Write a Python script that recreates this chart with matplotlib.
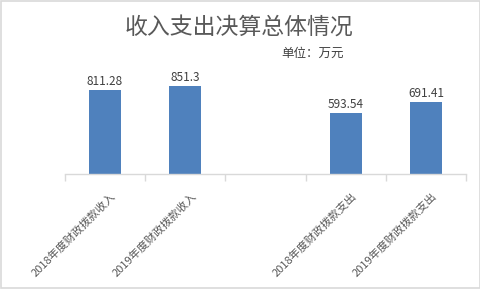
import matplotlib
matplotlib.use("Agg")
import matplotlib.pyplot as plt
import matplotlib.transforms as mtransforms
from matplotlib.patches import Rectangle

plt.rcParams['font.family'] = ['Noto Sans CJK SC', 'DejaVu Sans']

# data
categories = ['2018年度财政拨款收入', '2019年度财政拨款收入', '',
              '2018年度财政拨款支出', '2019年度财政拨款支出']
values = [811.28, 851.3, None, 593.54, 691.41]
value_labels = ['811.28', '851.3', '', '593.54', '691.41']

bar_color = '#4f81bd'
text_color = '#595959'
grid_color = '#d9d9d9'

fig = plt.figure(figsize=(4.81, 2.89), dpi=100)
ax = fig.add_axes([0.135, 0.398, 0.834, 0.322])

xs = [i for i, v in enumerate(values) if v is not None]
ys = [v for v in values if v is not None]
bars = ax.bar(xs, ys, width=0.4, color=bar_color)
for x, y, lab in zip(xs, ys, [l for l in value_labels if l]):
    ax.text(x, y + 20, lab, ha='center', va='bottom', fontsize=8.5,
            color='#404040')

ax.set_xlim(-0.5, len(categories) - 0.5)
ax.set_ylim(0, 900)
ax.set_yticks([])
for s in ['left', 'right', 'top']:
    ax.spines[s].set_visible(False)
ax.spines['bottom'].set_color(grid_color)
ax.spines['bottom'].set_linewidth(1.0)

ax.set_xticks(range(len(categories)))
ax.set_xticklabels(categories, rotation=45, ha='right', va='center',
                   rotation_mode='anchor', fontsize=8, color=text_color)
ax.tick_params(axis='x', which='major', length=0, pad=12)
offset = mtransforms.ScaledTranslation(9 / 100, -4 / 100, fig.dpi_scale_trans)
for lbl in ax.get_xticklabels():
    lbl.set_transform(lbl.get_transform() + offset)
ax.set_xticks([i - 0.5 for i in range(len(categories) + 1)], minor=True)
ax.tick_params(axis='x', which='minor', length=5, color=grid_color, width=1.0)

fig.text(0.497, 0.905, '收入支出决算总体情况', ha='center', va='center',
         fontsize=16.5, color=text_color)
fig.text(0.65, 0.815, '单位：万元', ha='center', va='center',
         fontsize=9, color='#404040')

fig.patches.append(Rectangle((0.002, 0.003), 0.996, 0.994, transform=fig.transFigure,
                             fill=False, edgecolor=grid_color, linewidth=1.2))

fig.savefig('out.png', dpi=100)
